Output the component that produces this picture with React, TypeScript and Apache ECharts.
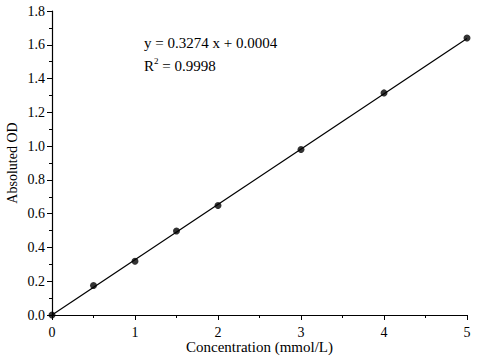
import React, { useEffect, useRef } from "react";
import * as echarts from "echarts";

const concentration = [0, 0.5, 1, 1.5, 2, 3, 4, 5];
const absorbance = [0, 0.175, 0.318, 0.497, 0.648, 0.98, 1.315, 1.64];
const slope = 0.3274;
const intercept = 0.0004;
const fitX = [0, 5];
const equationText = "y = 0.3274 x + 0.0004";
const r2Text = "0.9998";

export default function App() {
  const ref = useRef<HTMLDivElement>(null);
  useEffect(() => {
    if (!ref.current) return;
    const chart = echarts.init(ref.current, undefined, { renderer: "svg" });
    const font = "'Liberation Serif', 'Times New Roman', serif";
    chart.setOption({
      animation: false,
      backgroundColor: "#fff",
      grid: { left: 52, right: 13, top: 11, bottom: 45, containLabel: false, outerBoundsMode: "none" },
      xAxis: {
        type: "value",
        min: 0,
        max: 5,
        interval: 1,
        name: "Concentration (mmol/L)",
        nameLocation: "middle",
        nameGap: 24,
        nameMoveOverlap: false,
        nameTextStyle: { fontFamily: font, fontSize: 15, color: "#000" },
        axisLine: { lineStyle: { color: "#000", width: 1.2 } },
        axisTick: { show: true, length: 5, lineStyle: { color: "#000" } },
        minorTick: { show: true, splitNumber: 2, length: 3, lineStyle: { color: "#000" } },
        axisLabel: { fontFamily: font, fontSize: 14, color: "#000", margin: 10 },
        splitLine: { show: false },
      },
      yAxis: {
        type: "value",
        min: 0,
        max: 1.8,
        interval: 0.2,
        name: "Absoluted OD",
        nameLocation: "middle",
        nameGap: 33,
        nameMoveOverlap: false,
        nameTextStyle: { fontFamily: font, fontSize: 14, color: "#000" },
        axisLine: { show: true, lineStyle: { color: "#000", width: 1.2 } },
        axisTick: { show: true, length: 5, lineStyle: { color: "#000" } },
        minorTick: { show: true, splitNumber: 2, length: 3, lineStyle: { color: "#000" } },
        axisLabel: {
          fontFamily: font,
          fontSize: 14,
          color: "#000",
          margin: 7,
          formatter: (v: number) => v.toFixed(1),
        },
        splitLine: { show: false },
      },
      graphic: [
        {
          type: "text",
          left: 144,
          top: 35,
          style: {
            text: equationText,
            font: `15px ${font}`,
            fill: "#000",
          },
        },
        {
          type: "text",
          left: 144,
          top: 56,
          style: {
            text: "{b|R}{s|2}{b| = " + r2Text + "}",
            rich: {
              b: { fontFamily: font, fontSize: 15, fill: "#000", color: "#000", verticalAlign: "bottom", lineHeight: 17 },
              s: { fontFamily: font, fontSize: 9, fill: "#000", color: "#000", verticalAlign: "top", lineHeight: 17 },
            },
          },
        },
      ],
      series: [
        {
          type: "line",
          data: fitX.map((x) => [x, slope * x + intercept]),
          showSymbol: false,
          lineStyle: { color: "#000", width: 1.2 },
          silent: true,
          z: 1,
        },
        {
          type: "scatter",
          data: concentration.map((x, i) => [x, absorbance[i]]),
          symbolSize: 7,
          itemStyle: { color: "#000" },
          clip: true,
          z: 2,
        },
      ],
    });
    return () => chart.dispose();
  }, []);
  return <div ref={ref} style={{ width: 480, height: 360, position: "absolute", left: 0, top: 0 }} />;
}
